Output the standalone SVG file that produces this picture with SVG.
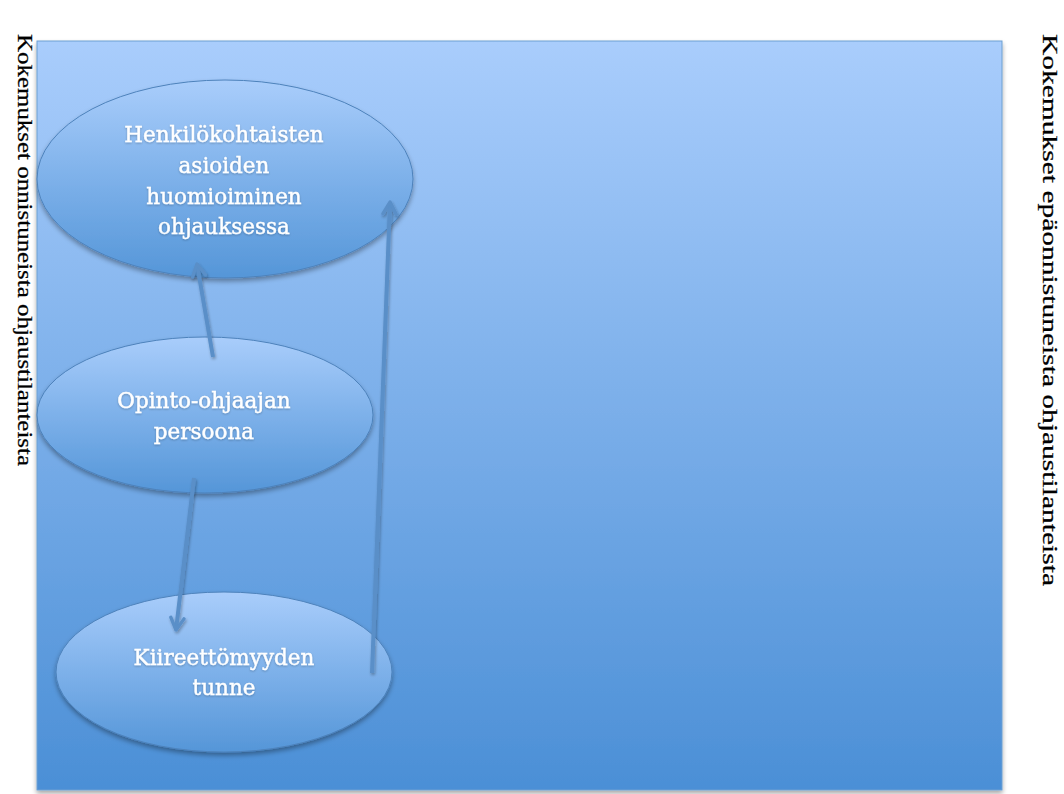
<svg xmlns="http://www.w3.org/2000/svg" width="1064" height="794" viewBox="0 0 1064 794">
  <defs>
    <linearGradient id="panelFill" x1="0" y1="0" x2="0" y2="1">
      <stop offset="0" stop-color="#a9cdfc"/>
      <stop offset="1" stop-color="#4b8fd6"/>
    </linearGradient>
    <linearGradient id="nodeFill" x1="0" y1="0" x2="0" y2="1">
      <stop offset="0" stop-color="#a9cdfb"/>
      <stop offset="0.55" stop-color="#79aee8"/>
      <stop offset="1" stop-color="#5596d8"/>
    </linearGradient>
    <filter id="shadow" x="-10%" y="-10%" width="125%" height="130%">
      <feGaussianBlur in="SourceAlpha" stdDeviation="2.5"/>
      <feOffset dx="0" dy="3" result="b"/>
      <feComponentTransfer><feFuncA type="linear" slope="0.35"/></feComponentTransfer>
      <feMerge><feMergeNode/><feMergeNode in="SourceGraphic"/></feMerge>
    </filter>
    <filter id="edgeShadow" filterUnits="userSpaceOnUse" x="0" y="0" width="1064" height="794">
      <feGaussianBlur in="SourceAlpha" stdDeviation="1.5"/>
      <feOffset dx="1" dy="2"/>
      <feComponentTransfer><feFuncA type="linear" slope="0.3"/></feComponentTransfer>
      <feMerge><feMergeNode/><feMergeNode in="SourceGraphic"/></feMerge>
    </filter>
    <filter id="glow" filterUnits="userSpaceOnUse" x="0" y="0" width="1064" height="794">
      <feGaussianBlur in="SourceAlpha" stdDeviation="1.2"/>
      <feOffset dx="0" dy="1"/>
      <feComponentTransfer><feFuncA type="linear" slope="0.25"/></feComponentTransfer>
      <feMerge><feMergeNode/><feMergeNode in="SourceGraphic"/></feMerge>
    </filter>
    <marker id="head" viewBox="0 0 14 14" refX="12" refY="7" markerWidth="4.2" markerHeight="4.2" orient="auto" markerUnits="strokeWidth">
      <path d="M2,1.5 L12,7 L2,12.5" fill="none" stroke="#5a8fc8" stroke-width="2.8" stroke-linecap="round" stroke-linejoin="round"/>
    </marker>
    <style>
      .node { fill: url(#nodeFill); stroke: #4d82bb; stroke-width: 1; filter: url(#shadow); }
      .label { font-family: "DejaVu Serif", "Liberation Serif", serif; font-size: 21.5px; fill: #ffffff; stroke: #ffffff; stroke-width: 0.4; text-anchor: middle; filter: url(#glow); }
      .edge { stroke: #5a8fc8; stroke-width: 4; fill: none; marker-end: url(#head); }
      .side { font-family: "Liberation Serif", serif; font-size: 22px; fill: #000000; stroke: #000000; stroke-width: 0.25; }
    </style>
  </defs>

  <rect width="1064" height="794" fill="#ffffff"/>

  <!-- background panel -->
  <rect id="panel" x="37" y="41" width="965" height="749" fill="url(#panelFill)" stroke="#6d9fd2" stroke-width="1" filter="url(#shadow)"/>

  <!-- side captions -->
  <text class="side" transform="translate(18,34) rotate(90)" textLength="432" lengthAdjust="spacingAndGlyphs">Kokemukset onnistuneista ohjaustilanteista</text>
  <text class="side" transform="translate(1043,34) rotate(90)" textLength="552" lengthAdjust="spacingAndGlyphs">Kokemukset epäonnistuneista ohjaustilanteista</text>

  <!-- nodes -->
  <g id="node-henkilokohtaiset">
    <ellipse class="node" cx="225" cy="179" rx="188" ry="99"/>
    <text class="label" x="224" y="142">Henkilökohtaisten</text>
    <text class="label" x="224" y="173">asioiden</text>
    <text class="label" x="224" y="204">huomioiminen</text>
    <text class="label" x="224" y="234">ohjauksessa</text>
  </g>
  <g id="node-persoona">
    <ellipse class="node" cx="205" cy="415" rx="168" ry="78"/>
    <text class="label" x="204" y="408">Opinto-ohjaajan</text>
    <text class="label" x="204" y="439">persoona</text>
  </g>
  <g id="node-kiireettomyys">
    <ellipse class="node" cx="224" cy="672" rx="168" ry="80"/>
    <text class="label" x="224" y="665">Kiireettömyyden</text>
    <text class="label" x="224" y="695">tunne</text>
  </g>

  <!-- connectors -->
  <g id="connectors" filter="url(#edgeShadow)">
    <line class="edge" x1="213" y1="357" x2="197" y2="264"/>
    <line class="edge" x1="194" y1="478" x2="176" y2="630"/>
    <line class="edge" x1="372" y1="673" x2="390" y2="202"/>
  </g>
</svg>
